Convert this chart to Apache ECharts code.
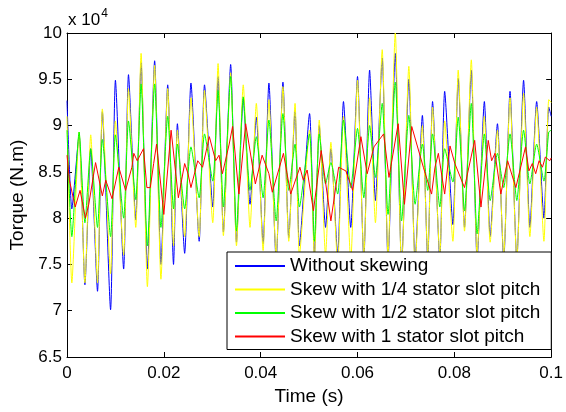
<!DOCTYPE html>
<html>
<head>
<meta charset="utf-8">
<script src="https://cdn.jsdelivr.net/npm/echarts@6/dist/echarts.min.js"></script>
<style>
  html, body { margin: 0; padding: 0; background: #fff; }
  #chart { width: 566px; height: 412px; }
</style>
</head>
<body>
<div id="chart"></div>
<script>
// torque values are in units of 1e4 N.m (axis shows "x 10^4")
var tMain = [0, 0.0010, 0.0025, 0.0037, 0.0049, 0.0063, 0.0073, 0.0090, 0.0100, 0.0117,
    0.0127, 0.0142, 0.0153, 0.0166, 0.0181, 0.0194, 0.0208, 0.0220, 0.0228, 0.0243,
    0.0256, 0.0273, 0.0284, 0.0301, 0.0312, 0.0323, 0.0338, 0.0350, 0.0364, 0.0378,
    0.0391, 0.0405, 0.0417, 0.0432, 0.0446, 0.0458, 0.0471, 0.0480, 0.0501, 0.0511,
    0.0521, 0.0534, 0.0545, 0.0559, 0.0571, 0.0586, 0.0600, 0.0613, 0.0625, 0.0637,
    0.0651, 0.0663, 0.0678, 0.0691, 0.0706, 0.0719, 0.0734, 0.0745, 0.0755, 0.0770,
    0.0780, 0.0797, 0.0808, 0.0821, 0.0835, 0.0847, 0.0862, 0.0874, 0.0889, 0.0902,
    0.0915, 0.0929, 0.0943, 0.0956, 0.0970, 0.0985, 0.0995, 0.1000];

var blueVals = [9.27, 8.10, 8.90, 7.28, 8.75, 7.21, 9.15, 7.01, 9.49, 7.45,
    9.55, 7.98, 9.68, 7.45, 9.70, 7.50, 9.44, 7.50, 9.02, 7.62,
    9.46, 7.75, 9.44, 8.12, 9.53, 7.85, 9.66, 7.74, 9.29, 8.15,
    9.09, 7.72, 9.46, 7.55, 9.47, 7.79, 9.17, 7.70, 9.13, 7.60,
    9.00, 7.90, 8.75, 7.60, 9.26, 7.90, 9.53, 7.55, 9.60, 8.19,
    9.73, 7.55, 9.78, 7.50, 9.50, 7.55, 9.11, 7.55, 9.26, 7.55,
    9.37, 7.93, 9.51, 7.90, 9.60, 7.55, 9.26, 7.80, 9.02, 7.55,
    9.37, 7.55, 9.49, 7.90, 9.26, 8.00, 9.20, 9.10];

var yellowVals = [9.10, 7.30, 8.93, 7.30, 8.90, 7.30, 9.18, 7.40, 9.05, 7.60,
    9.40, 7.90, 9.78, 7.26, 9.65, 7.34, 9.40, 7.70, 8.95, 7.80,
    9.30, 7.80, 9.38, 7.95, 9.67, 7.81, 9.57, 7.70, 9.44, 7.90,
    9.24, 7.65, 9.28, 7.60, 9.42, 7.75, 9.24, 7.60, 8.95, 7.55,
    9.06, 7.60, 8.82, 7.50, 9.10, 7.55, 9.49, 7.60, 9.30, 7.95,
    9.82, 7.60, 10.0, 7.45, 9.64, 7.50, 9.00, 7.60, 9.20, 7.60,
    9.05, 7.75, 9.60, 7.86, 9.71, 7.60, 9.10, 7.74, 8.95, 7.60,
    9.30, 7.55, 9.35, 7.80, 9.20, 7.75, 9.28, 9.25];

var greenVals = [8.95, 7.80, 8.93, 7.95, 8.75, 7.90, 8.85, 7.80, 8.90, 8.00,
    9.05, 8.20, 9.45, 7.70, 9.45, 7.90, 9.10, 8.10, 8.80, 8.10,
    8.77, 8.22, 8.91, 8.40, 9.38, 8.12, 9.53, 7.86, 9.31, 8.30,
    8.88, 8.22, 9.06, 7.97, 9.13, 8.30, 8.80, 8.12, 8.91, 7.75,
    8.91, 8.37, 8.60, 8.26, 9.06, 8.33, 8.97, 8.22, 9.00, 8.44,
    9.24, 8.04, 9.47, 7.97, 9.11, 8.15, 8.80, 8.30, 8.91, 8.12,
    8.75, 8.39, 9.09, 8.08, 9.24, 7.83, 8.91, 8.19, 8.70, 8.33,
    8.91, 8.19, 8.95, 8.37, 8.80, 8.40, 8.93, 8.95];

var tRed = [0, 0.0005, 0.0017, 0.0027, 0.0038, 0.0045, 0.0059, 0.0073, 0.0080, 0.0093,
    0.0107, 0.0121, 0.0134, 0.0138, 0.0145, 0.0158, 0.0165, 0.0172, 0.0179, 0.0185,
    0.0200, 0.0215, 0.0230, 0.0243, 0.0250, 0.0256, 0.0270, 0.0280, 0.0294, 0.0307,
    0.0314, 0.0321, 0.0335, 0.0342, 0.0355, 0.0369, 0.0389, 0.0403, 0.0417, 0.0424,
    0.0447, 0.0462, 0.0481, 0.0488, 0.0496, 0.0509, 0.0525, 0.0545, 0.0561, 0.0576,
    0.0590, 0.0607, 0.0620, 0.0634, 0.0654, 0.0665, 0.0684, 0.0697, 0.0712, 0.0736,
    0.0753, 0.0760, 0.0767, 0.0780, 0.0791, 0.0801, 0.0821, 0.0842, 0.0855, 0.0870,
    0.0877, 0.0884, 0.0896, 0.0910, 0.0927, 0.0947, 0.0954, 0.0961, 0.0968, 0.0975,
    0.0982, 0.0988, 0.0997, 0.1000];

var redVals = [8.68, 8.41, 8.12, 8.30, 8.00, 8.15, 8.60, 8.24, 8.41, 8.21,
    8.55, 8.30, 8.55, 8.70, 8.62, 8.75, 8.33, 8.33, 8.59, 8.80,
    8.04, 8.95, 8.22, 8.59, 8.48, 8.33, 8.62, 8.55, 8.88, 8.62,
    8.68, 8.48, 8.80, 8.99, 8.26, 9.02, 8.37, 8.68, 8.48, 8.28,
    8.70, 8.26, 8.55, 8.41, 8.52, 8.08, 8.73, 7.97, 8.55, 8.51,
    8.30, 8.88, 8.48, 8.77, 8.91, 8.44, 9.02, 8.15, 8.99, 8.55,
    8.26, 8.55, 8.70, 8.26, 8.78, 8.59, 8.33, 8.84, 8.12, 8.84,
    8.62, 8.70, 8.26, 8.62, 8.33, 8.77, 8.51, 8.59, 8.48, 8.62,
    8.55, 8.66, 8.62, 8.65];

var seriesNames = ['Without skewing', 'Skew with 1/4 stator slot pitch',
    'Skew with 1/2 stator slot pitch', 'Skew with 1 stator slot pitch'];
var seriesColors = ['#0000ff', '#ffff00', '#00ff00', '#ff0000'];

var xTicks = [0, 0.02, 0.04, 0.06, 0.08, 0.1];
var yTicks = [6.5, 7, 7.5, 8, 8.5, 9, 9.5, 10];

function pairs(ts, vs) {
    return ts.map(function (t, i) { return [t, vs[i]]; });
}

var font = 'Liberation Sans, Arial, Helvetica, sans-serif';

function tick() {
    return {show: true, inside: true, length: 5, lineStyle: {color: '#000', width: 1}};
}
function line() {
    return {show: true, onZero: false, lineStyle: {color: '#000', width: 1}};
}

var myChart = echarts.init(document.getElementById('chart'), null, {renderer: 'canvas'});

var option = {
    backgroundColor: '#fff',
    animation: false,
    textStyle: {fontFamily: font, color: '#000'},
    grid: {left: 67, right: 12, top: 33, bottom: 55},
    xAxis: [{
        type: 'value',
        min: xTicks[0], max: xTicks[xTicks.length - 1], interval: 0.02,
        axisLine: line(), axisTick: tick(), splitLine: {show: false},
        name: 'Time (s)', nameLocation: 'middle', nameGap: 28,
        nameTextStyle: {fontSize: 19, color: '#000', fontFamily: font},
        axisLabel: {
            fontSize: 17, color: '#000', margin: 8, fontFamily: font,
            formatter: function (v) { return String(+v.toFixed(2)); }
        }
    }, {
        type: 'value', position: 'top',
        min: xTicks[0], max: xTicks[xTicks.length - 1], interval: 0.02,
        axisLine: line(), axisTick: tick(), splitLine: {show: false},
        axisLabel: {show: false}
    }],
    yAxis: [{
        type: 'value',
        min: yTicks[0], max: yTicks[yTicks.length - 1], interval: 0.5,
        axisLine: line(), axisTick: tick(), splitLine: {show: false},
        name: 'Torque (N.m)', nameLocation: 'middle', nameGap: 34,
        nameTextStyle: {fontSize: 19, color: '#000', fontFamily: font},
        axisLabel: {fontSize: 17, color: '#000', margin: 5, fontFamily: font}
    }, {
        type: 'value', position: 'right',
        min: yTicks[0], max: yTicks[yTicks.length - 1], interval: 0.5,
        axisLine: line(), axisTick: tick(), splitLine: {show: false},
        axisLabel: {show: false}
    }],
    legend: {
        orient: 'vertical',
        left: 227,
        top: 252,
        z: 10,
        backgroundColor: '#fff',
        borderColor: '#000',
        borderWidth: 1,
        borderRadius: 0,
        padding: [4, 11, 3, 8],
        icon: 'path://M0,0 L50,0 L50,2 L0,2 Z',
        itemWidth: 50,
        itemHeight: 2,
        itemGap: 3.5,
        itemTextGap: 5,
        textStyle: {fontSize: 19, color: '#000', fontFamily: font, lineHeight: 20},
        data: seriesNames
    },
    graphic: [{
        type: 'text',
        left: 68,
        top: 8,
        style: {
            text: '{a|x 10}{b|4}',
            rich: {
                a: {fontSize: 17, fontFamily: font, fill: '#000', verticalAlign: 'bottom', height: 20},
                b: {fontSize: 12, fontFamily: font, fill: '#000', verticalAlign: 'top', padding: [0, 0, 10, 1]}
            }
        }
    }],
    series: seriesNames.map(function (name, k) {
        var d = k === 0 ? pairs(tMain, blueVals)
            : k === 1 ? pairs(tMain, yellowVals)
            : k === 2 ? pairs(tMain, greenVals)
            : pairs(tRed, redVals);
        return {
            name: name,
            type: 'line',
            data: d,
            symbol: 'none',
            showSymbol: false,
            smooth: k < 3 ? 0.2 : 0,
            clip: true,
            lineStyle: {color: seriesColors[k], width: 1},
            itemStyle: {color: seriesColors[k]},
            z: 2
        };
    })
};

myChart.setOption(option);
</script>
</body>
</html>
